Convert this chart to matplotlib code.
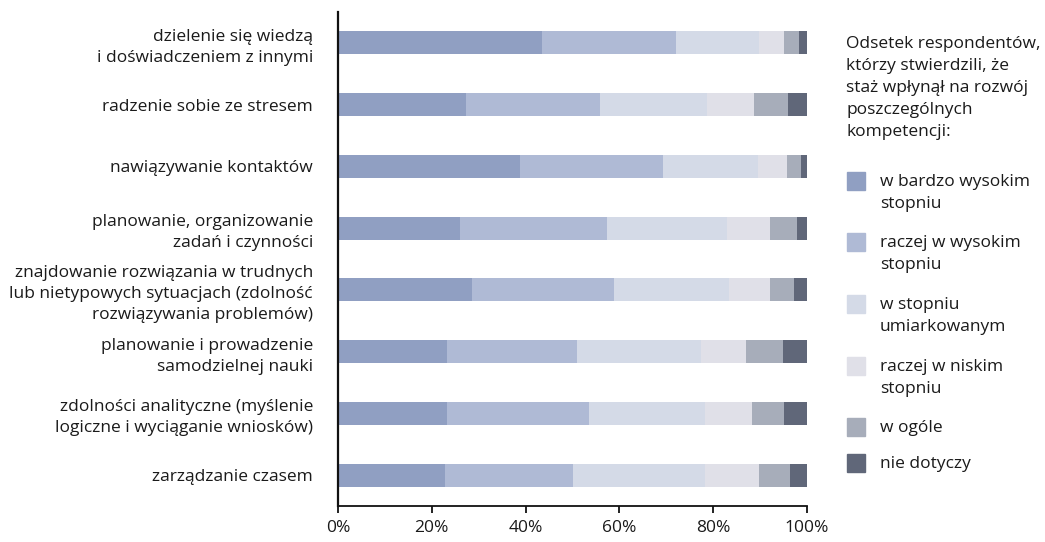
import matplotlib.pyplot as plt
from matplotlib.patches import Rectangle
import numpy as np

plt.rcParams['font.family'] = ['Open Sans', 'DejaVu Sans']

categories = [
    'dzielenie się wiedzą\ni doświadczeniem z innymi',
    'radzenie sobie ze stresem',
    'nawiązywanie kontaktów',
    'planowanie, organizowanie\nzadań i czynności',
    'znajdowanie rozwiązania w trudnych\nlub nietypowych sytuacjach (zdolność\nrozwiązywania problemów)',
    'planowanie i prowadzenie\nsamodzielnej nauki',
    'zdolności analityczne (myślenie\nlogiczne i wyciąganie wniosków)',
    'zarządzanie czasem',
]

series_names = [
    'w bardzo wysokim\nstopniu',
    'raczej w wysokim\nstopniu',
    'w stopniu\numiarkowanym',
    'raczej w niskim\nstopniu',
    'w ogóle',
    'nie dotyczy',
]

bardzo_wysoki = [43.5, 27.3, 38.8, 26.0, 28.5, 23.2, 23.2, 22.8]
raczej_wysoki = [28.6, 28.6, 30.5, 31.4, 30.4, 27.8, 30.4, 27.3]
umiarkowany = [17.7, 22.8, 20.3, 25.6, 24.5, 26.4, 24.7, 28.2]
raczej_niski = [5.4, 10.1, 6.2, 9.2, 8.8, 9.6, 10.0, 11.5]
w_ogole = [3.2, 7.2, 3.0, 5.7, 5.1, 7.9, 6.9, 6.6]
nie_dotyczy = [1.6, 4.0, 1.2, 2.1, 2.7, 5.1, 4.8, 3.6]

colors = ['#909fc2', '#afbad5', '#d4dae7', '#e0e0e8', '#a7adba', '#606779']

series = [bardzo_wysoki, raczej_wysoki, umiarkowany, raczej_niski, w_ogole, nie_dotyczy]

FS = 12.5
fig = plt.figure(figsize=(10.45, 5.42), dpi=100)
W, H = 1045, 542
ax = fig.add_axes([338 / W, 1 - 506 / H, 469 / W, 494 / H])

y = np.arange(len(categories))
left = np.zeros(len(categories))
for vals, col in zip(series, colors):
    ax.barh(y, vals, left=left, height=0.37, color=col, edgecolor='none')
    left += np.array(vals)

ax.set_xlim(0, 100)
ax.set_ylim(len(categories) - 0.5, -0.5)
ax.set_xticks([0, 20, 40, 60, 80, 100])
ax.set_xticklabels(['0%', '20%', '40%', '60%', '80%', '100%'], fontsize=FS, color='#1a1a1a')
ax.set_yticks(y)
ax.set_yticklabels(categories, fontsize=FS, color='#1a1a1a', linespacing=1.42)
ax.tick_params(axis='y', length=0, pad=18)
ax.tick_params(axis='x', length=5, width=1.3, color='#111111', pad=5)
for s in ['top', 'right']:
    ax.spines[s].set_visible(False)
ax.spines['left'].set_linewidth(1.6)
ax.spines['bottom'].set_linewidth(1.3)
ax.spines['left'].set_color('#111111')
ax.spines['bottom'].set_color('#111111')

# legend drawn by hand
fig.text(846 / W, 1 - 36 / H,
         'Odsetek respondentów,\nktórzy stwierdzili, że\nstaż wpłynął na rozwój\nposzczególnych\nkompetencji:',
         fontsize=FS, color='#1a1a1a', va='top', ha='left', linespacing=1.5)

centers = [181, 242, 304, 366, 427, 463]
for name, col, cy in zip(series_names, colors, centers):
    fig.patches.append(Rectangle((847 / W, 1 - (cy + 9) / H), 18 / W, 18 / H,
                                 transform=fig.transFigure, color=col))
    fig.text(880 / W, 1 - (cy - 7) / H, name, fontsize=FS, color='#1a1a1a',
             va='top', ha='left', linespacing=1.5)

fig.savefig('out.png', dpi=100)
